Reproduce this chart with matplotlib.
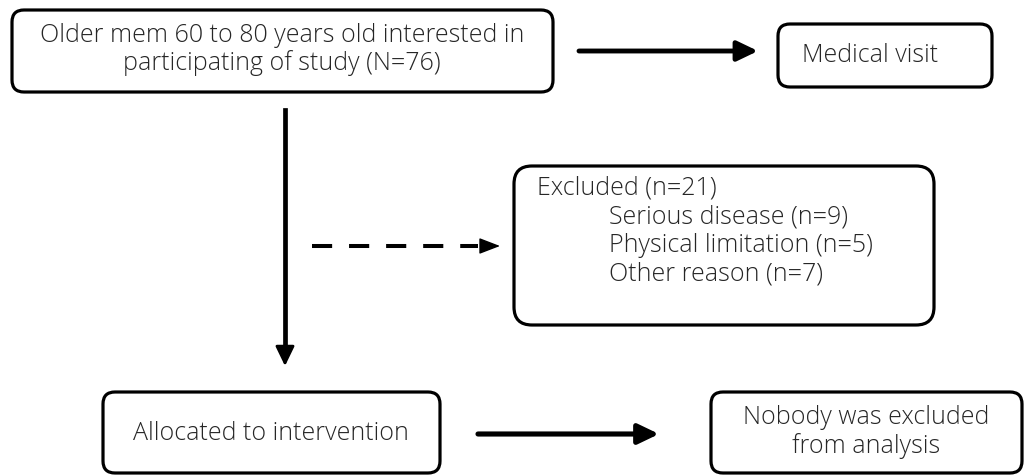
import matplotlib.pyplot as plt
from matplotlib.patches import FancyBboxPatch

plt.rcParams['font.family'] = ['Open Sans', 'DejaVu Sans']

# box texts
enrol_text = ["Older mem 60 to 80 years old interested in",
              "participating of study (N=76)"]
visit_text = "Medical visit"
excl_title = "Excluded (n=21)"
excl_reasons = ["Serious disease (n=9)", "Physical limitation (n=5)", "Other reason (n=7)"]
alloc_text = "Allocated to intervention"
analysis_text = ["Nobody was excluded", "from analysis"]

fig = plt.figure(figsize=(10.31, 4.75), dpi=100)
ax = fig.add_axes([0, 0, 1, 1])
ax.set_xlim(0, 1031)
ax.set_ylim(475, 0)
ax.axis("off")

fs = 18
tc = "#262626"


def box(x0, y0, x1, y1, r=12):
    p = FancyBboxPatch((x0 + r, y0 + r), x1 - x0 - 2 * r, y1 - y0 - 2 * r,
                       boxstyle="round,pad=%d,rounding_size=%d" % (r, r),
                       fc="white", ec="black", lw=2.3)
    ax.add_patch(p)


def arrow(x0, y0, x1, y1, lw=3.5, hl=1.25, hw=0.6):
    ax.annotate("", xy=(x1, y1), xytext=(x0, y0),
                arrowprops=dict(arrowstyle="-|>,head_length=%g,head_width=%g" % (hl, hw),
                                lw=lw, color="black",
                                shrinkA=0, shrinkB=0))


def txt(x, y, s, ha="center"):
    ax.text(x, y, s, ha=ha, va="center", fontsize=fs, fontweight="light", color=tc)


box(12, 10, 553, 92)
txt(282, 35, enrol_text[0])
txt(282, 63, enrol_text[1])

arrow(579, 51, 758, 51)

box(778, 24, 992, 87)
txt(802, 56, visit_text, ha="left")

ax.plot([285, 285], [110, 352], color="black", lw=3.4)
arrow(285, 348, 285, 366, lw=2, hl=1.2, hw=0.58)

# dashed arrow: five dashes, then a bare head
ax.plot([312, 478], [246, 246], color="black", lw=2.9, linestyle=(0, (5, 4.2)))
arrow(482, 246, 500, 246, lw=1, hl=1.3, hw=0.5)

box(514, 166, 934, 325, r=18)
txt(537, 188, excl_title, ha="left")
for i, s in enumerate(excl_reasons):
    txt(609, 217 + i * 28.5, s, ha="left")

box(103, 392, 440, 473)
txt(271, 433, alloc_text)

arrow(478, 434, 659, 434, lw=3.7)

box(711, 392, 1022, 473)
txt(866, 418, analysis_text[0])
txt(866, 446, analysis_text[1])

fig.savefig("out.png", dpi=100)
